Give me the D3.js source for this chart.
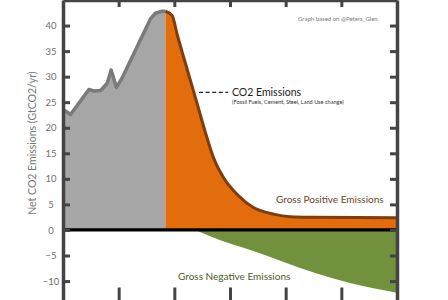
<!DOCTYPE html>
<html>
<head>
<meta charset="utf-8">
<script src="https://cdn.jsdelivr.net/npm/d3@7/dist/d3.min.js"></script>
<style>
  body { margin: 0; background: #fff; }
  svg { display: block; font-family: Lato, "Open Sans", sans-serif; }
</style>
</head>
<body>
<svg id="chart" width="448" height="300"></svg>
<script>
// historical net emissions (grey), GtCO2/yr
const histYears  = [1980, 1982.7, 1989.3, 1991, 1993.5, 1995.9, 1997.3, 1999.2, 2001.2, 2011.4, 2013.2, 2015.6, 2016.8];
const histValues = [23.6, 22.6,   27.5,   27.2, 27.3,   28.7,   31.3,   27.9,   29.7,   41.3,   42.4,   42.8,   42.8];

// gross positive emissions (orange)
const posYears  = [2016.8, 2019.2, 2021.0, 2023.3, 2025.7, 2028.1, 2031.1, 2034.1, 2037.7, 2042.5, 2048.4, 2055.6, 2061.6, 2069.9, 2100];
const posValues = [42.8,   42.0,   38.3,   33.9,   29.4,   24.9,   19.2,   14.1,   10.2,   7.0,    4.4,    3.1,    2.6,    2.5,    2.4];

// gross negative emissions (green)
const negYears  = [2027.5, 2036.5, 2047.3, 2071.2, 2083.1, 2100];
const negValues = [0,      -2.0,   -3.9,   -8.5,   -10.4,  -12.3];

const yTicks = [-10, -5, 0, 5, 10, 15, 20, 25, 30, 35, 40];
const xTicks = [2000, 2020, 2040, 2060, 2080];

const yLabel = 'Net CO2 Emissions (GtCO2/yr)';
const credit = 'Graph based on @Peters_Glen';

const svg = d3.select('#chart');

const x = d3.scaleLinear().domain([1980, 2100]).range([63, 397]);
const y = d3.scaleLinear().domain([-14, 45]).range([301.5, 0]);

const zip = (xs, ys) => xs.map((v, i) => ({ year: v, value: ys[i] }));
const hist = zip(histYears, histValues);
const pos  = zip(posYears, posValues);
const neg  = zip(negYears, negValues);

const area = curve => d3.area()
  .x(d => x(d.year))
  .y0(y(0))
  .y1(d => y(d.value))
  .curve(curve);
const line = curve => d3.line()
  .x(d => x(d.year))
  .y(d => y(d.value))
  .curve(curve);

// areas
svg.append('path').datum(neg)
  .attr('d', area(d3.curveMonotoneX))
  .attr('fill', '#71913d');

svg.append('path').datum(hist)
  .attr('d', area(d3.curveLinear))
  .attr('fill', '#a6a6a6');

svg.append('path').datum(pos)
  .attr('d', area(d3.curveMonotoneX))
  .attr('fill', '#e36c0c');

svg.append('path').datum(hist)
  .attr('d', line(d3.curveLinear))
  .attr('fill', 'none')
  .attr('stroke', '#7a7a7a')
  .attr('stroke-width', 3.5)
  .attr('stroke-linejoin', 'round');

svg.append('path').datum(pos)
  .attr('d', line(d3.curveMonotoneX))
  .attr('fill', 'none')
  .attr('stroke', '#7d3d0c')
  .attr('stroke-width', 3);

// zero line
svg.append('line')
  .attr('x1', x(1980)).attr('x2', x(2100))
  .attr('y1', y(0)).attr('y2', y(0))
  .attr('stroke', '#000')
  .attr('stroke-width', 3.2);

// frame with inward ticks
const frame = svg.append('g').attr('class', 'frame');

frame.append('g')
  .attr('transform', `translate(${x(1980)},0)`)
  .call(d3.axisLeft(y).tickValues(yTicks).tickSize(-7).tickSizeOuter(0));

frame.append('g')
  .attr('transform', `translate(${x(2100)},0)`)
  .call(d3.axisRight(y).tickValues(yTicks).tickSize(-7).tickSizeOuter(0).tickFormat(''));

frame.append('g')
  .attr('transform', `translate(0,${y(45)})`)
  .call(d3.axisTop(x).tickValues(xTicks).tickSize(-7).tickSizeOuter(0).tickFormat(''));

frame.append('g')
  .attr('transform', `translate(0,${y(-14)})`)
  .call(d3.axisBottom(x).tickValues(xTicks).tickSize(-14).tickSizeOuter(0).tickFormat(''));

frame.selectAll('.domain')
  .attr('stroke', '#444')
  .attr('stroke-width', 3.5);
frame.selectAll('.tick line')
  .attr('stroke', '#444')
  .attr('stroke-width', 3);
frame.selectAll('.tick text')
  .attr('x', -12)
  .attr('text-anchor', 'middle')
  .attr('fill', '#707070')
  .style('font-family', 'Lato, sans-serif')
  .style('font-size', '9.5px');

// labels
svg.append('text')
  .attr('transform', `translate(36,${y(17)}) rotate(-90)`)
  .attr('text-anchor', 'middle')
  .attr('fill', '#777')
  .style('font-size', '10.5px')
  .text(yLabel);

svg.append('text')
  .attr('x', 298).attr('y', 20.5)
  .attr('fill', '#777')
  .style('font-size', '6px')
  .text(credit);

svg.append('line')
  .attr('x1', 199).attr('x2', 228)
  .attr('y1', 92.3).attr('y2', 92.3)
  .attr('stroke', '#222')
  .attr('stroke-width', 1.2)
  .attr('stroke-dasharray', '4,2.6');

svg.append('text')
  .attr('x', 232).attr('y', 95.5)
  .attr('fill', '#222')
  .style('font-size', '10.5px')
  .text('CO2 Emissions');

svg.append('text')
  .attr('x', 232).attr('y', 104)
  .attr('fill', '#333')
  .style('font-size', '5.6px')
  .text('(Fossil Fuels, Cement, Steel, Land Use change)');

svg.append('text')
  .attr('x', 276).attr('y', 202.5)
  .attr('fill', '#6e4424')
  .style('font-size', '10px')
  .text('Gross Positive Emissions');

svg.append('text')
  .attr('x', 178).attr('y', 279.5)
  .attr('fill', '#4b5a2c')
  .style('font-size', '10px')
  .text('Gross Negative Emissions');
</script>
</body>
</html>
